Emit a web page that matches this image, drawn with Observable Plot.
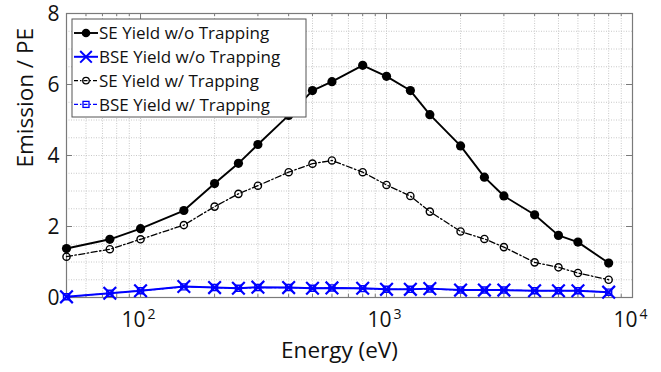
<!DOCTYPE html>
<html><head><meta charset="utf-8">
<script src="https://cdn.jsdelivr.net/npm/d3@7"></script>
<script src="https://cdn.jsdelivr.net/npm/@observablehq/plot@0.6"></script>
<style>body{margin:0;background:#fff;}</style>
</head><body><div id="chart"></div>
<script>
const energies = [50,75,100,150,200,250,300,400,500,600,800,1000,1250,1500,2000,2500,3000,4000,5000,6000,8000];
const seNoTrap  = [1.38,1.64,1.94,2.45,3.21,3.78,4.31,5.13,5.83,6.08,6.54,6.23,5.83,5.15,4.27,3.39,2.86,2.33,1.75,1.56,0.97];
const bseNoTrap = [0.02,0.12,0.19,0.31,0.28,0.26,0.29,0.28,0.26,0.27,0.26,0.23,0.23,0.25,0.21,0.21,0.21,0.19,0.19,0.19,0.15];
const seTrap    = [1.15,1.36,1.64,2.04,2.56,2.92,3.15,3.53,3.77,3.86,3.53,3.17,2.86,2.42,1.86,1.65,1.42,0.99,0.85,0.69,0.50];
const bseTrap   = [0.02,0.12,0.19,0.30,0.28,0.26,0.28,0.28,0.26,0.27,0.25,0.23,0.23,0.24,0.21,0.21,0.21,0.19,0.19,0.19,0.15];
const seriesNames = ["SE Yield w/o Trapping","BSE Yield w/o Trapping","SE Yield w/ Trapping","BSE Yield w/ Trapping"];
const xTicks = [100,1000,10000];
const xTickBase = "10";
const yTicks = [0,2,4,6,8];
const yMinor = [0.5,1,1.5,2.5,3,3.5,4.5,5,5.5,6.5,7,7.5];
const xMinor = [60,70,80,90,200,300,400,500,600,700,800,900,2000,3000,4000,5000,6000,7000,8000,9000];
const xLabel = "Energy (eV)";
const yLabel = "Emission / PE";

const W = 661, H = 372, ml = 66, mr = 29, mt = 13, mb = 75;
const pw = W - ml - mr, ph = H - mt - mb;
const FONT = "'Open Sans', sans-serif";
const rows = (arr) => energies.map((e, i) => ({e, v: arr[i]}));
const dashDot = "6,2.5,1.5,2.5";
const gridStyle = {stroke: "#c8c8c8", strokeOpacity: 1, strokeWidth: 1, strokeDasharray: "1,1.5"};
const axisCol = "#7a7a7a";

const plot = Plot.plot({
  width: W, height: H,
  marginLeft: ml, marginRight: mr, marginTop: mt, marginBottom: mb,
  style: {fontFamily: FONT, fontSize: "21px", background: "#fff", color: "#111", overflow: "visible"},
  x: {type: "log", domain: [50, 10000], axis: null},
  y: {domain: [0, 8], axis: null},
  marks: [
    Plot.ruleX(xMinor.concat(xTicks), {x: d => d, ...gridStyle}),
    Plot.ruleY(yMinor.concat(yTicks), {y: d => d, ...gridStyle}),
    // inside ticks
    Plot.ruleX(xTicks, {x: d => d, stroke: axisCol, insetTop: ph - 6}),
    Plot.ruleX(xTicks, {x: d => d, stroke: axisCol, insetBottom: ph - 6}),
    Plot.ruleX(xMinor, {x: d => d, stroke: axisCol, insetTop: ph - 3}),
    Plot.ruleX(xMinor, {x: d => d, stroke: axisCol, insetBottom: ph - 3}),
    Plot.ruleY(yTicks, {y: d => d, stroke: axisCol, insetRight: pw - 6}),
    Plot.ruleY(yTicks, {y: d => d, stroke: axisCol, insetLeft: pw - 6}),
    Plot.frame({stroke: axisCol, strokeWidth: 1.2}),
    // tick labels
    Plot.text(yTicks, {y: d => d, frameAnchor: "left", dx: -7, dy: 1, textAnchor: "end", text: d => String(d), fontSize: 21}),
    Plot.text(xTicks, {x: d => d, frameAnchor: "bottom", dy: 29, dx: 5, textAnchor: "end", text: () => xTickBase, fontSize: 21}),
    Plot.text(xTicks, {x: d => d, frameAnchor: "bottom", dy: 21, dx: 7, textAnchor: "start", text: d => String(Math.round(Math.log10(d))), fontSize: 14}),
    // axis labels
    Plot.text([xLabel], {frameAnchor: "bottom", dy: 60, dx: -10, text: d => d, fontSize: 22.5}),
    Plot.text([yLabel], {frameAnchor: "left", dx: -41, dy: 12, rotate: -90, text: d => d, fontSize: 22.5}),
    // series
    Plot.line(rows(seNoTrap), {x: "e", y: "v", stroke: "black", strokeWidth: 1.9}),
    Plot.dot(rows(seNoTrap), {x: "e", y: "v", r: 4.6, fill: "black"}),
    Plot.line(rows(seTrap), {x: "e", y: "v", stroke: "black", strokeWidth: 1.3, strokeDasharray: dashDot}),
    Plot.dot(rows(seTrap), {x: "e", y: "v", r: 3.6, fill: "none", stroke: "black", strokeWidth: 1.4}),
    Plot.line(rows(bseNoTrap), {x: "e", y: "v", stroke: "#0000ff", strokeWidth: 2}),
    Plot.dot(rows(bseNoTrap), {x: "e", y: "v", symbol: "times", r: 5.8, stroke: "#0000ff", strokeWidth: 2.2}),
    Plot.line(rows(bseTrap), {x: "e", y: "v", stroke: "#0000ff", strokeWidth: 1.2, strokeDasharray: dashDot}),
    Plot.dot(rows(bseTrap), {x: "e", y: "v", symbol: "square", r: 3.4, fill: "none", stroke: "#0000ff", strokeWidth: 1.4})
  ]
});
document.getElementById("chart").appendChild(plot);

// legend
const svg = d3.select(plot);
const lg = svg.append("g").attr("font-family", FONT).attr("font-size", 17).attr("text-anchor", "start");
const lx = 72, ly = 19, lw = 234, lh = 98;
lg.append("rect").attr("x", lx).attr("y", ly).attr("width", lw).attr("height", lh)
  .attr("fill", "white").attr("stroke", "#555").attr("stroke-width", 1);
const styles = [
  {stroke: "black", dash: null, sw: 1.9, marker: "fcircle"},
  {stroke: "#0000ff", dash: null, sw: 2, marker: "times"},
  {stroke: "black", dash: "4,2,1.5,2", sw: 1.3, marker: "ocircle"},
  {stroke: "#0000ff", dash: "4,2,1.5,2", sw: 1.3, marker: "square"}
];
seriesNames.forEach((name, i) => {
  const cy = 33 + i * 23.8;
  const s = styles[i];
  const g = lg.append("g");
  g.append("line").attr("x1", 74).attr("x2", 98).attr("y1", cy).attr("y2", cy)
    .attr("stroke", s.stroke).attr("stroke-width", s.sw).attr("stroke-dasharray", s.dash);
  const cx = 86;
  if (s.marker === "fcircle") g.append("circle").attr("cx", cx).attr("cy", cy).attr("r", 4.3).attr("fill", "black");
  if (s.marker === "ocircle") g.append("circle").attr("cx", cx).attr("cy", cy).attr("r", 3.3).attr("fill", "none").attr("stroke", "black").attr("stroke-width", 1.3);
  if (s.marker === "times") g.append("path").attr("d", d3.symbol(d3.symbolTimes, 90)()).attr("transform", `translate(${cx},${cy})`).attr("stroke", "#0000ff").attr("stroke-width", 2).attr("fill", "none");
  if (s.marker === "square") g.append("rect").attr("x", cx - 3).attr("y", cy - 3).attr("width", 6).attr("height", 6).attr("fill", "none").attr("stroke", "#0000ff").attr("stroke-width", 1.3);
  g.append("text").attr("x", 99).attr("y", cy).attr("dy", "0.36em").attr("fill", "#111").text(name);
});
</script>
</body></html>
